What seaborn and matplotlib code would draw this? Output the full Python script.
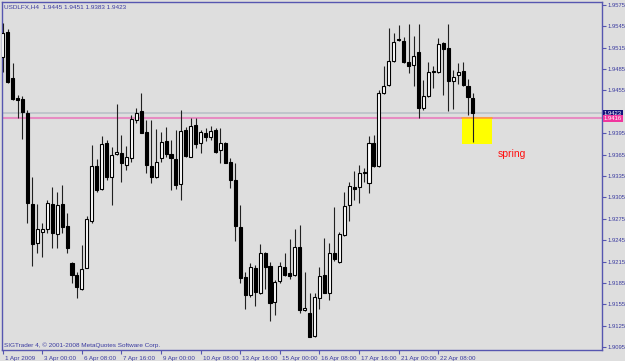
import matplotlib
matplotlib.use("Agg")
import matplotlib.pyplot as plt
import matplotlib.transforms as mtransforms
from matplotlib.patches import Rectangle
import seaborn as sns
import numpy as np
import pandas as pd

# ---------------- data (USDLFX, H4) ----------------
opens = [1.9502, 1.9537, 1.9472, 1.9444, 1.9443, 1.9423, 1.9296, 1.9241, 1.9256, 1.9261,
         1.9296, 1.9253, 1.9296, 1.9265, 1.9213, 1.9196, 1.9176, 1.9206, 1.9272, 1.9349,
         1.9317, 1.9381, 1.9334, 1.9366, 1.9367, 1.9350, 1.9360, 1.9413, 1.9426, 1.9397,
         1.9349, 1.9334, 1.9360, 1.9384, 1.9366, 1.9359, 1.9324, 1.9399, 1.9362, 1.9406,
         1.9381, 1.9395, 1.9390, 1.9399, 1.9371, 1.9381, 1.9355, 1.9329, 1.9263, 1.9193,
         1.9168, 1.9206, 1.9171, 1.9227, 1.9209, 1.9158, 1.9188, 1.9207, 1.9199, 1.9196,
         1.9235, 1.9147, 1.9143, 1.9110, 1.9164, 1.9196, 1.9171, 1.9227, 1.9214, 1.9252,
         1.9294, 1.9320, 1.9320, 1.9339, 1.9325, 1.9381, 1.9349, 1.9451, 1.9463, 1.9496,
         1.9527, 1.9525, 1.9495, 1.9491, 1.9509, 1.9430, 1.9447, 1.9482, 1.9481, 1.9522,
         1.9515, 1.9468, 1.9477, 1.9482, 1.9461, 1.9445]
highs = [1.9550, 1.9541, 1.9494, 1.9449, 1.9447, 1.9428, 1.9334, 1.9296, 1.9269, 1.9301,
         1.9320, 1.9313, 1.9322, 1.9283, 1.9214, 1.9200, 1.9238, 1.9279, 1.9378, 1.9359,
         1.9391, 1.9385, 1.9376, 1.9436, 1.9392, 1.9377, 1.9421, 1.9430, 1.9451, 1.9413,
         1.9413, 1.9401, 1.9397, 1.9404, 1.9385, 1.9399, 1.9428, 1.9404, 1.9416, 1.9416,
         1.9399, 1.9402, 1.9405, 1.9402, 1.9402, 1.9383, 1.9360, 1.9353, 1.9294, 1.9200,
         1.9213, 1.9210, 1.9239, 1.9228, 1.9214, 1.9189, 1.9214, 1.9227, 1.9246, 1.9261,
         1.9266, 1.9200, 1.9171, 1.9171, 1.9207, 1.9248, 1.9241, 1.9291, 1.9256, 1.9313,
         1.9327, 1.9342, 1.9350, 1.9346, 1.9391, 1.9392, 1.9456, 1.9489, 1.9543, 1.9536,
         1.9547, 1.9530, 1.9548, 1.9531, 1.9548, 1.9470, 1.9495, 1.9489, 1.9529, 1.9523,
         1.9548, 1.9484, 1.9494, 1.9495, 1.9471, 1.9451]
lows = [1.9481, 1.9465, 1.9442, 1.9416, 1.9387, 1.9269, 1.9209, 1.9227, 1.9221, 1.9255,
        1.9234, 1.9234, 1.9255, 1.9227, 1.9185, 1.9164, 1.9175, 1.9206, 1.9269, 1.9313,
        1.9315, 1.9329, 1.9294, 1.9364, 1.9327, 1.9343, 1.9355, 1.9409, 1.9395, 1.9339,
        1.9325, 1.9332, 1.9355, 1.9362, 1.9315, 1.9317, 1.9301, 1.9362, 1.9362, 1.9374,
        1.9367, 1.9384, 1.9385, 1.9367, 1.9353, 1.9353, 1.9318, 1.9244, 1.9185, 1.9148,
        1.9165, 1.9152, 1.9169, 1.9176, 1.9131, 1.9140, 1.9185, 1.9195, 1.9190, 1.9195,
        1.9143, 1.9145, 1.9109, 1.9109, 1.9148, 1.9171, 1.9161, 1.9216, 1.9213, 1.9251,
        1.9272, 1.9301, 1.9297, 1.9327, 1.9311, 1.9348, 1.9348, 1.9450, 1.9461, 1.9495,
        1.9525, 1.9494, 1.9480, 1.9461, 1.9416, 1.9428, 1.9446, 1.9458, 1.9480, 1.9449,
        1.9426, 1.9429, 1.9464, 1.9461, 1.9421, 1.9383]
closes = [1.9536, 1.9467, 1.9443, 1.9442, 1.9425, 1.9297, 1.9239, 1.9261, 1.9261, 1.9297,
          1.9255, 1.9294, 1.9263, 1.9234, 1.9196, 1.9179, 1.9204, 1.9275, 1.9349, 1.9315,
          1.9380, 1.9334, 1.9364, 1.9369, 1.9353, 1.9362, 1.9415, 1.9423, 1.9395, 1.9350,
          1.9334, 1.9355, 1.9383, 1.9366, 1.9360, 1.9322, 1.9398, 1.9363, 1.9405, 1.9380,
          1.9397, 1.9390, 1.9398, 1.9369, 1.9381, 1.9353, 1.9329, 1.9265, 1.9192, 1.9168,
          1.9207, 1.9172, 1.9227, 1.9207, 1.9157, 1.9186, 1.9209, 1.9196, 1.9195, 1.9235,
          1.9147, 1.9150, 1.9109, 1.9165, 1.9195, 1.9171, 1.9227, 1.9218, 1.9253, 1.9293,
          1.9321, 1.9317, 1.9339, 1.9341, 1.9381, 1.9349, 1.9451, 1.9461, 1.9496, 1.9523,
          1.9526, 1.9495, 1.9489, 1.9503, 1.9430, 1.9447, 1.9481, 1.9481, 1.9520, 1.9513,
          1.9468, 1.9474, 1.9481, 1.9463, 1.9446, 1.9423]

x_tick_bars = [0, 8, 16, 24, 32, 40, 48, 56, 64, 72, 80, 88]
x_tick_labels = ["1 Apr 2009", "3 Apr 00:00", "6 Apr 08:00", "7 Apr 16:00", "9 Apr 00:00",
                 "10 Apr 08:00", "13 Apr 16:00", "15 Apr 00:00", "16 Apr 08:00",
                 "17 Apr 16:00", "21 Apr 00:00", "22 Apr 08:00"]
y_ticks = [1.9575, 1.9545, 1.9515, 1.9485, 1.9455, 1.9395, 1.9365, 1.9335, 1.9305,
           1.9275, 1.9245, 1.9215, 1.9185, 1.9155, 1.9125, 1.9095]
bid_label = "1.9423"
level_label = "1.9416"
bid_price = 1.9423
level_price = 1.9416
zone_low = 1.9380
header = "USDLFX,H4  1.9445 1.9451 1.9383 1.9423"
copyright_text = "SIGTrader 4, \u00a9 2001-2008 MetaQuotes Software Corp."

# ---------------- style ----------------
BG = "#DEDEDE"
NAVY = "#3A3AA0"
SPINE = "#5656B0"
sns.set_style("white", {"axes.facecolor": BG, "figure.facecolor": BG})
plt.rcParams["font.family"] = ["Liberation Sans", "DejaVu Sans"]

W, H = 625, 361
fig = plt.figure(figsize=(W / 100, H / 100), dpi=100)
fig.patch.set_facecolor(BG)
ax = fig.add_axes([2 / W, 11 / H, 600 / W, 348 / H])
ax.set_facecolor(BG)

df = pd.DataFrame({"open": opens, "high": highs, "low": lows, "close": closes})
df["bar"] = np.arange(len(df))
up = df["close"] >= df["open"]

# wicks
ax.vlines(df["bar"], df["low"], df["high"], color="#202020", lw=0.8, zorder=3)
# bodies
ax.bar(df["bar"][up], (df["close"] - df["open"])[up], bottom=df["open"][up], width=0.62,
       color="white", edgecolor="black", lw=0.8, zorder=4)
ax.bar(df["bar"][~up], (df["open"] - df["close"])[~up], bottom=df["close"][~up], width=0.62,
       color="black", edgecolor="black", lw=0.8, zorder=4)

# horizontal levels
ax.axhline(bid_price, color="#B6BEC6", lw=1.1, zorder=1)
ax.axhline(level_price, color="#E68CC2", lw=1.5, zorder=1)

# yellow "spring" zone
n = len(df)
ax.add_patch(Rectangle((n - 3.2, zone_low), 6.05, level_price - zone_low,
                       facecolor="#FFFF00", edgecolor="none", zorder=2))
ax.plot([n - 3.2, n + 2.85], [level_price, level_price], color="#FFA030", lw=1.2, zorder=2.5)
ax.text(n + 3.95, 1.9366, "spring", color="#FF1010", fontsize=7.5, va="center", ha="left")

ax.set_xlim(-0.14, 121.07)
ax.set_ylim(1.90908, 1.95792)

# axes appearance
for s in ax.spines.values():
    s.set_color(SPINE)
    s.set_linewidth(1.0)
ax.yaxis.tick_right()
ax.set_yticks(y_ticks)
ax.set_yticklabels([f"{v:.4f}" for v in y_ticks])
ax.tick_params(axis="y", which="both", right=True, left=False, length=3, width=0.8,
               color=SPINE, labelcolor=NAVY, labelsize=4.2, pad=1.0)
ax.set_xticks(x_tick_bars)
ax.set_xticklabels(x_tick_labels)
ax.tick_params(axis="x", bottom=True, length=3, width=0.8, color=SPINE,
               labelcolor=NAVY, labelsize=4.5, pad=1.2)
offset = mtransforms.ScaledTranslation(2 / 100, 0, fig.dpi_scale_trans)
for lab in ax.get_xticklabels():
    lab.set_horizontalalignment("left")
    lab.set_transform(lab.get_transform() + offset)
ax.grid(False)

# price labels on the right axis
blend = mtransforms.blended_transform_factory(ax.transAxes, ax.transData)
ax.text(1.003, bid_price, bid_label, transform=blend, color="white", fontsize=4.2,
        va="center", ha="left", zorder=6, clip_on=False,
        bbox=dict(boxstyle="square,pad=0.2", facecolor="#12127A", edgecolor="none"))
ax.text(1.003, level_price, level_label, transform=blend, color="white", fontsize=4.2,
        va="center", ha="left", zorder=6, clip_on=False,
        bbox=dict(boxstyle="square,pad=0.2", facecolor="#F0369E", edgecolor="none"))

# header & copyright
fig.text(4 / W, 1 - 6.5 / H, header, color=NAVY, fontsize=4.6, va="center", ha="left")
fig.text(3.5 / W, 1 - 345 / H, copyright_text, color=NAVY, fontsize=4.6, va="center", ha="left")

fig.savefig("out.png", dpi=100, facecolor=BG)
